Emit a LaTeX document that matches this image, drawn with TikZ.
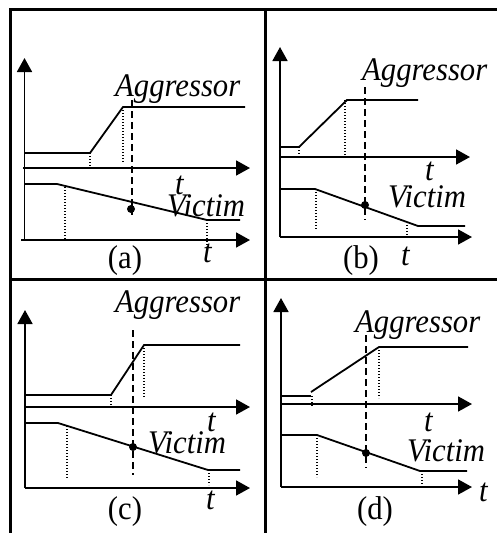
\documentclass[tikz,border=0pt]{standalone}
\usepackage{fontspec}
\setmainfont{Liberation Serif}[FakeStretch=0.93]
\usetikzlibrary{arrows.meta}
\begin{document}
\begin{tikzpicture}[x=1pt,y=-1pt,
  frame/.style={line width=3pt},
  axis/.style={line width=1.8pt,-{Triangle[length=14pt,width=15pt]}},
  wave/.style={line width=1.8pt},
  dashln/.style={line width=1.8pt,dash pattern=on 7pt off 4pt},
  dotln/.style={line width=1.1pt,dash pattern=on 1.2pt off 1.8pt},
  lbl/.style={inner sep=0pt,anchor=base west,font=\fontsize{33}{36}\selectfont\itshape},
  captxt/.style={inner sep=0pt,anchor=base,font=\fontsize{33}{36}\selectfont},
  pt/.style={circle,fill=black,inner sep=0pt,minimum size=8pt}]
\useasboundingbox (0,0) rectangle (497,533);
% frame
\draw[frame] (497,9) -- (10.5,9) -- (10.5,533);
\draw[frame] (265,9) -- (265,533);
\draw[frame] (10.5,279) -- (497,279);

% ---------- (a) ----------
\draw[axis] (24.5,240) -- (24.5,58);
\draw[axis] (23,168) -- (250,168);
\draw[axis] (21,240) -- (250,240);
\draw[wave] (24.5,153) -- (90,153) -- (123,107) -- (245,107);
\draw[dotln] (90,153) -- (90,168);
\draw[dotln] (123,107) -- (123,163);
\draw[dashln] (132,100) -- (132,215);
\draw[wave] (24.5,184) -- (57,184) -- (207,220) -- (240,220);
\draw[dotln] (65,187) -- (65,240);
\draw[dotln] (207,220) -- (207,246);
\node[pt] (pa) at (131,209) {};
\node[lbl] (aggA) at (115,96) {Aggressor};
\node[lbl] (ta1) at (175,194) {t};
\node[lbl] (vicA) at (167,216) {Victim};
\node[lbl] (ta2) at (203,262) {t};
\node[captxt] (capA) at (125,268) {(a)};

% ---------- (b) ----------
\draw[axis] (280,237) -- (280,47);
\draw[axis] (280,157) -- (470,157);
\draw[axis] (280,237) -- (472,237);
\draw[wave] (280,147) -- (299,147) -- (347,100) -- (418,100);
\draw[dotln] (299,147) -- (299,157);
\draw[dotln] (345,100) -- (345,155);
\draw[dashln] (365,87) -- (365,220);
\draw[wave] (280,189) -- (315,189) -- (418,226) -- (465,226);
\draw[dotln] (316,189) -- (316,230);
\draw[dotln] (407,225) -- (407,237);
\node[pt] (pb) at (365,205) {};
\node[lbl] (aggB) at (362,80) {Aggressor};
\node[lbl] (tb1) at (425,180) {t};
\node[lbl] (vicB) at (388,207) {Victim};
\node[lbl] (tb2) at (401,265) {t};
\node[captxt] (capB) at (361,268) {(b)};

% ---------- (c) ----------
\draw[axis] (25,488) -- (25,310);
\draw[axis] (25,407) -- (250,407);
\draw[axis] (25,488) -- (250,488);
\draw[wave] (25,395) -- (111,395) -- (144,345) -- (240,345);
\draw[dotln] (111,395) -- (111,406);
\draw[dotln] (144,345) -- (144,398);
\draw[dashln] (133,330) -- (133,475);
\draw[wave] (25,423) -- (58,423) -- (208,470) -- (240,470);
\draw[dotln] (67,426) -- (67,478);
\draw[dotln] (209,470) -- (209,485);
\node[pt] (pc) at (133,447) {};
\node[lbl] (aggC) at (115,312) {Aggressor};
\node[lbl] (tc1) at (207,431) {t};
\node[lbl] (vicC) at (148,453) {Victim};
\node[lbl] (tc2) at (206,509) {t};
\node[captxt] (capC) at (125,519) {(c)};

% ---------- (d) ----------
\draw[axis] (281,487) -- (281,298);
\draw[axis] (281,404) -- (472,404);
\draw[axis] (281,487) -- (472,487);
\draw[wave] (281,396) -- (311,396);
\draw[wave] (311,392) -- (379,347) -- (468,347);
\draw[dotln] (312,396) -- (312,407);
\draw[dotln] (379,347) -- (379,398);
\draw[dashln] (366,335) -- (366,468);
\draw[wave] (281,435) -- (317,435) -- (420,471) -- (467,471);
\draw[dotln] (317,435) -- (317,477);
\draw[dotln] (422,471) -- (422,487);
\node[pt] (pd) at (366,453) {};
\node[lbl] (aggD) at (355,332) {Aggressor};
\node[lbl] (td1) at (424,431) {t};
\node[lbl] (vicD) at (407,461) {Victim};
\node[lbl] (td2) at (479,501) {t};
\node[captxt] (capD) at (375,519) {(d)};
\end{tikzpicture}
\end{document}
